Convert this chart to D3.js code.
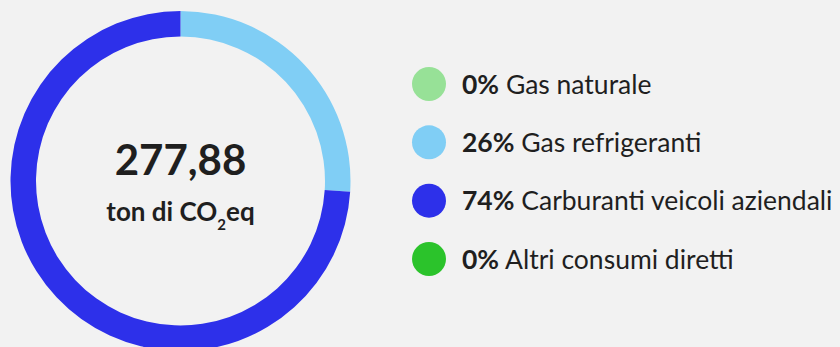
<!DOCTYPE html>
<html>
<head>
<meta charset="utf-8">
<script src="https://cdn.jsdelivr.net/npm/d3@7"></script>
<style>
  html, body { margin: 0; padding: 0; background: #f2f2f2; }
  svg { display: block; font-family: Lato, "Open Sans", sans-serif; }
</style>
</head>
<body>
<svg id="chart" width="840" height="347"></svg>
<script>
// Direct emissions breakdown (share of total, %)
const categories = ["Gas naturale", "Gas refrigeranti", "Carburanti veicoli aziendali", "Altri consumi diretti"];
const shares = [0, 26, 74, 0];
const colors = ["#97e197", "#80cef5", "#2d30ea", "#2bc32b"];
const totalLabel = "277,88";

const svg = d3.select("#chart");
const cx = 180.5, cy = 181;
const outerR = 170, innerR = 144.5;
const ink = "#1f1f1f";

const pie = d3.pie().sort(null).value(d => d.value);
const arc = d3.arc().innerRadius(innerR).outerRadius(outerR);
const rows = categories.map((c, i) => ({ name: c, value: shares[i], color: colors[i] }));

const ring = svg.append("g").attr("transform", `translate(${cx},${cy})`);
ring.selectAll("path")
  .data(pie(rows).filter(d => d.data.value > 0))
  .join("path")
  .attr("d", arc)
  .attr("fill", d => d.data.color);

// Total in the middle of the ring
ring.append("text")
  .attr("text-anchor", "middle")
  .attr("y", -6)
  .attr("font-size", 42)
  .attr("font-weight", 700)
  .attr("fill", ink)
  .text(totalLabel);

const unit = ring.append("text")
  .attr("text-anchor", "middle")
  .attr("y", 40)
  .attr("font-size", 26)
  .attr("font-weight", 700)
  .attr("fill", ink);
unit.append("tspan").text("ton di CO");
unit.append("tspan").attr("font-size", 15).attr("dy", 9).text("2");
unit.append("tspan").attr("dy", -9).text("eq");

// Legend
const legendY = d3.scalePoint().domain(categories).range([84, 259]);
const legend = svg.append("g");
const item = legend.selectAll("g")
  .data(rows)
  .join("g")
  .attr("transform", d => `translate(429,${legendY(d.name)})`);

item.append("circle")
  .attr("r", 17)
  .attr("fill", d => d.color);

const label = item.append("text")
  .attr("x", 33)
  .attr("y", 9.5)
  .attr("font-size", 26.5)
  .attr("fill", ink);
label.append("tspan").attr("font-weight", 700).text(d => d.value + "%");
label.append("tspan").attr("font-weight", 400).text(d => " " + d.name);
</script>
</body>
</html>
